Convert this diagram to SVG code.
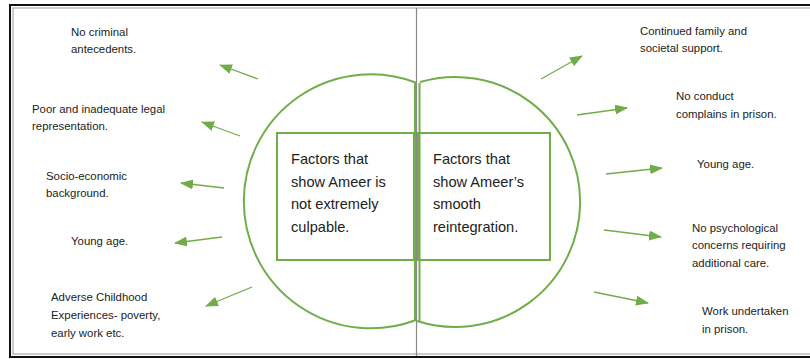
<svg xmlns="http://www.w3.org/2000/svg" width="810" height="359" viewBox="0 0 810 359">
<style>
.lbl{font-family:"Liberation Sans",Arial,sans-serif;font-size:11.4px;fill:#222}
.big{font-family:"Liberation Sans",Arial,sans-serif;font-size:14.6px;fill:#222}
.g{fill:none;stroke:#70AD47;stroke-width:2}
.arr{stroke:#70AD47;stroke-width:1.3;fill:none;marker-end:url(#ah)}
</style>
<defs>
<marker id="ah" markerUnits="userSpaceOnUse" markerWidth="14" markerHeight="11" refX="12" refY="5" orient="auto">
<path d="M0,0 L13,5 L0,10 z" fill="#70AD47"/>
</marker>
</defs>
<rect x="0" y="0" width="810" height="359" fill="#fff"/>
<g id="frame">
<rect x="10" y="5" width="820" height="352" fill="none" stroke="#111" stroke-width="2"/>
<rect x="13" y="8" width="820" height="346" fill="none" stroke="#999" stroke-width="1"/>
<line x1="416.5" y1="8" x2="416.5" y2="356" stroke="#888" stroke-width="1.2"/>
</g>
<g id="venn">
<path class="g" d="M417,83 A127,127 0 1 0 416,320"/>
<path class="g" d="M420,82 A125,125 0 1 1 417,321"/>
<line class="g" x1="415" y1="83" x2="415" y2="320" stroke-width="1.5"/>
<line class="g" x1="419.5" y1="83" x2="419.5" y2="321" stroke-width="1.5"/>
</g>
<g id="box-left">
<rect class="g" x="277" y="133" width="137" height="127"/>
<text class="big" x="291" y="164">Factors that</text>
<text class="big" x="291" y="187">show Ameer is</text>
<text class="big" x="291" y="209">not extremely</text>
<text class="big" x="291" y="232">culpable.</text>
</g>
<g id="box-right">
<rect class="g" x="418" y="133" width="132" height="127"/>
<text class="big" x="433" y="164">Factors that</text>
<text class="big" x="433" y="187">show Ameer’s</text>
<text class="big" x="433" y="209">smooth</text>
<text class="big" x="433" y="232">reintegration.</text>
</g>
<g id="connectors">
<line class="arr" x1="258" y1="79" x2="220" y2="65"/>
<line class="arr" x1="240" y1="136" x2="202" y2="122"/>
<line class="arr" x1="224" y1="188" x2="181" y2="183"/>
<line class="arr" x1="222" y1="237" x2="175" y2="243"/>
<line class="arr" x1="252" y1="287" x2="206" y2="306"/>
<line class="arr" x1="541" y1="79" x2="582" y2="56"/>
<line class="arr" x1="577" y1="115" x2="627" y2="108"/>
<line class="arr" x1="606" y1="174" x2="662" y2="168"/>
<line class="arr" x1="604" y1="230" x2="661" y2="237"/>
<line class="arr" x1="594" y1="292" x2="648" y2="303"/>
</g>
<g id="l1"><text class="lbl" x="71" y="36">No criminal</text><text class="lbl" x="71" y="53">antecedents.</text></g>
<g id="l2"><text class="lbl" x="32" y="113">Poor and inadequate legal</text><text class="lbl" x="32" y="130">representation.</text></g>
<g id="l3"><text class="lbl" x="46" y="180">Socio-economic</text><text class="lbl" x="46" y="197">background.</text></g>
<g id="l4"><text class="lbl" x="71" y="245">Young age.</text></g>
<g id="l5"><text class="lbl" x="51" y="301">Adverse Childhood</text><text class="lbl" x="51" y="319">Experiences- poverty,</text><text class="lbl" x="51" y="337">early work etc.</text></g>
<g id="r1"><text class="lbl" x="640" y="35">Continued family and</text><text class="lbl" x="640" y="52">societal support.</text></g>
<g id="r2"><text class="lbl" x="676" y="100">No conduct</text><text class="lbl" x="676" y="118">complains in prison.</text></g>
<g id="r3"><text class="lbl" x="697" y="168">Young age.</text></g>
<g id="r4"><text class="lbl" x="692" y="232">No psychological</text><text class="lbl" x="692" y="249">concerns requiring</text><text class="lbl" x="692" y="267">additional care.</text></g>
<g id="r5"><text class="lbl" x="702" y="315">Work undertaken</text><text class="lbl" x="702" y="333">in prison.</text></g>
</svg>
